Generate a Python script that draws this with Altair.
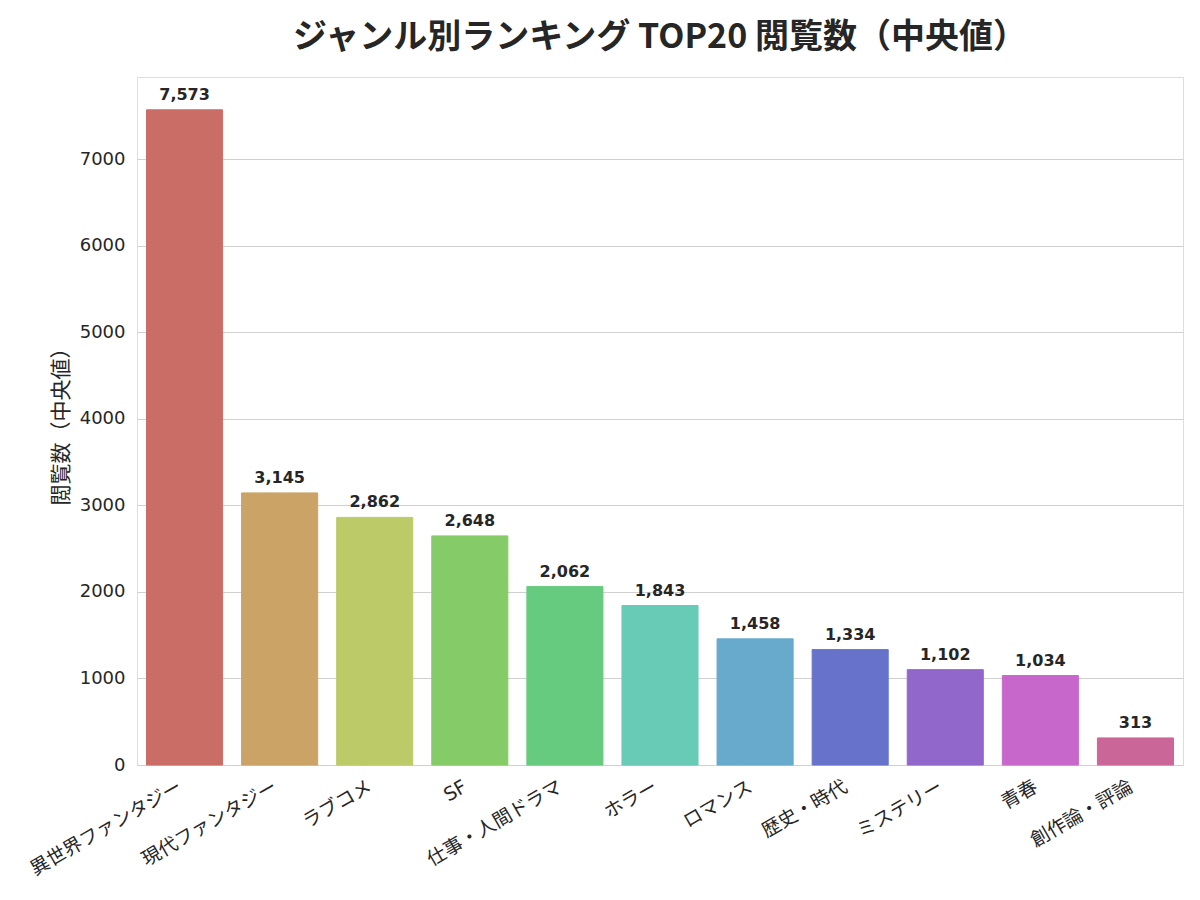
import altair as alt
import pandas as pd

genres = ["異世界ファンタジー", "現代ファンタジー", "ラブコメ", "SF", "仕事・人間ドラマ",
          "ホラー", "ロマンス", "歴史・時代", "ミステリー", "青春", "創作論・評論"]
views = [7573, 3145, 2862, 2648, 2062, 1843, 1458, 1334, 1102, 1034, 313]
colors = ["#cb6d67", "#cba367", "#bccb67", "#85cb67", "#67cb7f", "#67cbb6",
          "#67aacb", "#6773cb", "#9167cb", "#c867cb", "#cb6798"]
y_ticks = [0, 1000, 2000, 3000, 4000, 5000, 6000, 7000]

df = pd.DataFrame({"genre": genres, "views": views})
df["label"] = df["views"].map(lambda v: f"{v:,}")

JP = "Noto Sans CJK JP"
MIX = "DejaVu Sans, Noto Sans CJK JP"

x = alt.X("genre:N", sort=genres, title=None,
          scale=alt.Scale(paddingInner=0.2, paddingOuter=0.1),
          axis=alt.Axis(labelAngle=330, labelAlign="right", labelBaseline="top",
                        labelFontSize=19, labelColor="#262626", labelPadding=12,
                        labelOffset=-9,
                        ticks=False, domain=False, grid=False, labelFont=MIX))
y = alt.Y("views:Q", title="閲覧数（中央値）",
          scale=alt.Scale(domain=[0, 7952], nice=False),
          axis=alt.Axis(values=y_ticks, format="d", labelFontSize=18, labelColor="#262626",
                        labelPadding=12, ticks=False, domain=False, grid=True,
                        gridColor="#d0d0d0", gridWidth=1.2,
                        titleFontSize=21, titleFontWeight="normal", titleColor="#262626",
                        titlePadding=8, labelFont=MIX, titleFont=JP))

bars = alt.Chart(df).mark_bar(strokeWidth=1).encode(
    x=x, y=y,
    color=alt.Color("genre:N", sort=genres,
                    scale=alt.Scale(domain=genres, range=colors), legend=None),
    stroke=alt.Color("genre:N", sort=genres,
                     scale=alt.Scale(domain=genres, range=colors), legend=None),
)

labels = alt.Chart(df).mark_text(baseline="alphabetic", dy=-10, fontSize=16,
                                 fontWeight="bold", color="#262626", font=MIX).encode(
    x=alt.X("genre:N", sort=genres),
    y=alt.Y("views:Q"),
    text="label:N",
)

chart = alt.layer(bars, labels).properties(
    width=1046, height=688,
    title=alt.TitleParams("ジャンル別ランキング TOP20 閲覧数（中央値）", fontSize=34,
                          fontWeight="bold", color="#262626", font=JP, offset=22,
                          anchor="middle"),
    autosize=alt.AutoSizeParams(type="none"),
    padding={"left": 129, "top": 69, "right": 9, "bottom": 120},
).configure_view(stroke="#cccccc", strokeWidth=1.3).configure(background="white")

chart.save("out.html", embed_options={"renderer": "svg", "actions": False})
